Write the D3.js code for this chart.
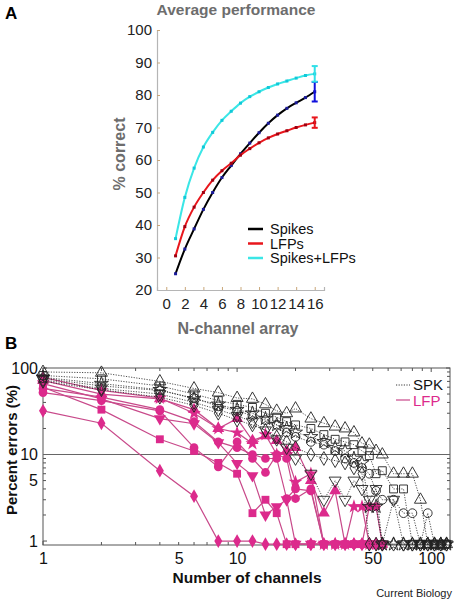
<!DOCTYPE html>
<html><head><meta charset="utf-8">
<script src="https://cdn.jsdelivr.net/npm/d3@7"></script>
<style>
html,body{margin:0;padding:0;background:#fff;}
svg{display:block;font-family:"Liberation Sans",Arial,Helvetica,sans-serif;}
</style></head>
<body><svg id="c" width="455" height="600"></svg>
<script>
// ---------- Panel A data ----------
const nChannelsA = [1,2,3,4,5,6,7,8,9,10,11,12,13,14,15,16];
const spikes      = [25,32.6,38.8,44.8,50,54.6,58.3,61.9,65.2,68.4,71.3,73.8,75.9,77.6,79.2,81];
const lfps        = [30.5,39.5,45.5,50,53.8,56.7,59,61.5,63.5,65.3,66.8,68,69,70,70.8,71.5];
const spikesLfps  = [35.8,48.5,57.5,64,68.5,72.2,75,77.5,79.5,81,82.3,83.4,84.3,85.2,86,86.5];
const errEnd      = {spikes:3, lfps:1.6, spikesLfps:2.4}; // error at 16 channels
const yTicksA = [20,30,40,50,60,70,80,90,100];
const xTicksA = [0,2,4,6,8,10,12,14,16];

// ---------- Panel B data ----------
const channels = [1,2,4,6,8,10,12,14,16,18,20,24,28,32,36,40,44,48,52,56,64,72,80,88,96,104,112,120];
// LFP (filled markers, solid magenta lines); 0.92 = zero errors plotted on floor
const lfpDiamond = [32,23,6.5,3.3,1.0,1.0,1.0,0.92,0.92,0.92,0.92,0.92,0.92,0.92,0.92,0.92,0.92,0.92,0.92,0.92];
const lfpSquare  = [60,33,15,11,8,6,2.1,3,2.1,0.92,0.92,0.92,0.92,0.92,0.92,0.92,0.92,0.92,0.92,0.92];
const lfpCircle  = [52,42,32,12,7.2,14,9,6.2,10,9,3.1,4,0.92,0.92,0.92,0.92,0.92,0.92,0.92];
const lfpTriDown = [66,44,26,22.7,13.7,7.9,5.7,2,2.5,3,0.92,0.92,0.92,0.92,0.92,0.92,0.92,0.92,0.92,0.92];
const lfpTriUp   = [72,50,44,33,20,26,14.5,16.5,14.5,11,12,5,2.1,3.8,0.92,0.92,0.92,0.92,0.92,0.92];
const lfpStar    = [78,55,45,30,20,17.9,13.4,17,10,10,4.8,6,0.92,0.92,0.92,2.5,2.5,0.92,0.92,0.92];
const lfpCircle2 = [58,46,33,24,14,12,10,9,9,3.1,4,3.8,0.92,0.92,0.92,0.92,0.92,2.5,2.5,0.92];
// SPK (hollow markers, dotted black lines)
const spkTriUp   = [90,88,70,58,52,45,44,38,32,30,34,26,23,21,20,18,13.4,13,11,10,6,6,6,3,0.92,0.92,0.92,0.92];
const spkSquare  = [82,75,62,50,42,38,35,30,27,24,22,20,17,15,14,13,11,9.7,6,6.5,4,4,0.92,0.92,0.92,0.92,0.92,0.92];
const spkCircle  = [76,62,55,45,36,32,28,25,22,18,16,14,13,11,9,8,7,6,3.8,3,3,2.1,2.1,0.92,2.1,0.92,0.92,0.92];
const spkDiamond = [70,56,46,37,30,25,22,19,16,14,12,10,9,8.5,8,7,6,0.92,0.92,0.92,0.92,0.92,0.92,0.92,0.92,0.92,0.92,0.92];
const spkTriDown = [73,58,50,40,33,28,24,19,15,12,9,6,3,5,3,5,4,3,4,0.92,3,0.92,0.92,0.92,0.92,0.92,0.92,0.92];
const spkStar    = [78,66,56,44,38,33,30,26,22,20,18,16,14,12,11,9,8,2.5,2.5,0.92,0.92,0.92,0.92,0.92,0.92,0.92,0.92,0.92];
const yTicksB = [1,5,10,100];
const xTicksB = [1,5,10,50,100];

const svg = d3.select("#c");
const grayText = "#6d6d6d";

// ================= PANEL A =================
const xA = d3.scaleLinear().domain([-1,17]).range([157,324]);
const yA = d3.scaleLinear().domain([20,100]).range([290,30]);

svg.append("text").attr("x",5).attr("y",19).attr("font-size",17).attr("font-weight","bold").text("A");
svg.append("text").attr("x",236).attr("y",15).attr("text-anchor","middle").attr("font-size",15.5)
  .attr("font-weight","bold").attr("fill",grayText).text("Average performance");

const gyA = svg.append("g").attr("transform","translate(157,0)")
  .call(d3.axisLeft(yA).tickValues(yTicksA).tickSize(-3).tickPadding(5));
const gxA = svg.append("g").attr("transform","translate(0,290)")
  .call(d3.axisBottom(xA).tickValues(xTicksA).tickSize(-3).tickPadding(8));
[gyA,gxA].forEach(g=>{
  g.select(".domain").attr("stroke","#b5b5b5").attr("stroke-width",1.2);
  g.selectAll(".tick line").attr("stroke","#c9a77a");
  g.selectAll(".tick text").attr("font-size",15).attr("fill","#222");
});
svg.append("text").attr("transform","translate(125,154) rotate(-90)").attr("text-anchor","middle")
  .attr("font-size",16).attr("font-weight","bold").attr("fill",grayText).text("% correct");
svg.append("text").attr("x",238).attr("y",334).attr("text-anchor","middle")
  .attr("font-size",16).attr("font-weight","bold").attr("fill",grayText).text("N-channel array");

const seriesA = [
  {vals:spikes, col:"#000", dot:"#1a1a99", err:errEnd.spikes, ecol:"#1010dd"},
  {vals:lfps, col:"#e8161c", dot:"#a00010", err:errEnd.lfps, ecol:"#e8161c"},
  {vals:spikesLfps, col:"#3be6e6", dot:"#10c8d8", err:errEnd.spikesLfps, ecol:"#30e0e8"}
];
const lineA = d3.line().x((d,i)=>xA(nChannelsA[i])).y(d=>yA(d)).curve(d3.curveMonotoneX);
seriesA.forEach(s=>{
  svg.append("path").attr("d",lineA(s.vals)).attr("fill","none").attr("stroke",s.col).attr("stroke-width",2);
  svg.append("g").selectAll("rect").data(s.vals).join("rect")
    .attr("x",(d,i)=>xA(nChannelsA[i])-1.5).attr("y",d=>yA(d)-1.5).attr("width",3).attr("height",3).attr("fill",s.dot);
  const last = s.vals[s.vals.length-1], xl = xA(16);
  const g = svg.append("g").attr("stroke",s.ecol).attr("stroke-width",2);
  g.append("line").attr("x1",xl).attr("x2",xl).attr("y1",yA(last-s.err)).attr("y2",yA(last+s.err));
  g.append("line").attr("x1",xl-3).attr("x2",xl+3).attr("y1",yA(last-s.err)).attr("y2",yA(last-s.err));
  g.append("line").attr("x1",xl-3).attr("x2",xl+3).attr("y1",yA(last+s.err)).attr("y2",yA(last+s.err));
});
const legA = [["Spikes","#000"],["LFPs","#e8161c"],["Spikes+LFPs","#3be6e6"]];
legA.forEach((l,i)=>{
  const yy = 229 + i*14.5;
  svg.append("line").attr("x1",248).attr("x2",263).attr("y1",yy).attr("y2",yy).attr("stroke",l[1]).attr("stroke-width",2.5);
  svg.append("text").attr("x",270).attr("y",yy+5).attr("font-size",14.5).attr("fill","#111").text(l[0]);
});

// ================= PANEL B =================
const L=43, R=450, T=368, B=545;
const xB = d3.scaleLog().domain([1,125]).range([L,R]);
const yB = d3.scaleLog().domain([0.9,100]).range([B,T]);

svg.append("text").attr("x",5).attr("y",349).attr("font-size",17).attr("font-weight","bold").text("B");

// frame
svg.append("rect").attr("x",L).attr("y",T).attr("width",R-L).attr("height",B-T)
  .attr("fill","none").attr("stroke","#555").attr("stroke-width",1);
// minor/major ticks
const xMinor = [];
[1,10,100].forEach(d=>{for(let k=1;k<10;k++){const v=d*k; if(v>=1 && v<=125) xMinor.push(v);}});
const yMinor = [];
[1,10].forEach(d=>{for(let k=1;k<10;k++){yMinor.push(d*k);}}); yMinor.push(100);
const tk = svg.append("g").attr("stroke","#555").attr("stroke-width",1);
xMinor.forEach(v=>{
  const big = [1,10,100].includes(v);
  tk.append("line").attr("x1",xB(v)).attr("x2",xB(v)).attr("y1",B).attr("y2",B-(big?4:3));
  tk.append("line").attr("x1",xB(v)).attr("x2",xB(v)).attr("y1",T).attr("y2",T+(big?4:3));
});
yMinor.forEach(v=>{
  const big = [1,10,100].includes(v);
  tk.append("line").attr("x1",L).attr("x2",L+(big?4:3)).attr("y1",yB(v)).attr("y2",yB(v));
  tk.append("line").attr("x1",R).attr("x2",R-(big?4:3)).attr("y1",yB(v)).attr("y2",yB(v));
});
// 10% reference line
svg.append("line").attr("x1",L).attr("x2",R).attr("y1",yB(10)).attr("y2",yB(10)).attr("stroke","#666").attr("stroke-width",1.2);

// tick labels through axes (domain hidden)
const gxB = svg.append("g").attr("transform",`translate(0,${B})`)
  .call(d3.axisBottom(xB).tickValues(xTicksB).tickFormat(d3.format("d")).tickSize(0).tickPadding(8));
const gyB = svg.append("g").attr("transform",`translate(${L},0)`)
  .call(d3.axisLeft(yB).tickValues(yTicksB).tickFormat(d3.format("d")).tickSize(0).tickPadding(5));
[gxB,gyB].forEach(g=>{
  g.select(".domain").remove();
  g.selectAll(".tick text").attr("font-size",16).attr("fill","#111");
});
svg.append("text").attr("transform","translate(17,450) rotate(-90)").attr("text-anchor","middle")
  .attr("font-size",15).attr("font-weight","bold").attr("fill","#111").text("Percent errors (%)");
svg.append("text").attr("x",247).attr("y",583).attr("text-anchor","middle")
  .attr("font-size",15.5).attr("font-weight","bold").attr("fill","#111").text("Number of channels");
svg.append("text").attr("x",452).attr("y",597).attr("text-anchor","end")
  .attr("font-size",11).attr("fill","#222").text("Current Biology");

const MAG = "#dc2a8c", MAGL = "#c8498a";
const sym = {
  circle: d3.symbol().type(d3.symbolCircle).size(60),
  square: d3.symbol().type(d3.symbolSquare).size(62),
  diamond: d3.symbol().type(d3.symbolDiamond).size(55),
  triUp: d3.symbol().type(d3.symbolTriangle).size(62),
  triDown: d3.symbol().type(d3.symbolTriangle).size(62),
  star: d3.symbol().type(d3.symbolStar).size(60)
};
const lfpSeries = [
  {v:lfpDiamond,s:"diamond"},{v:lfpSquare,s:"square"},{v:lfpCircle,s:"circle"},
  {v:lfpTriDown,s:"triDown"},{v:lfpTriUp,s:"triUp"},{v:lfpStar,s:"star"},{v:lfpCircle2,s:"circle"}
];
const spkSeries = [
  {v:spkTriUp,s:"triUp"},{v:spkSquare,s:"square"},{v:spkCircle,s:"circle"},
  {v:spkDiamond,s:"diamond"},{v:spkTriDown,s:"triDown"},{v:spkStar,s:"star"}
];
const lineB = d3.line().x(d=>xB(d[0])).y(d=>yB(d[1]));
const pts = a => a.map((v,i)=>[channels[i],v]);

function drawMarkers(g, data, shape, fill, stroke){
  g.selectAll(null).data(data).join("path")
    .attr("d",sym[shape]())
    .attr("transform",d=>`translate(${xB(d[0])},${yB(d[1])})${shape==="triDown"?" rotate(180)":""}`)
    .attr("fill",fill).attr("stroke",stroke).attr("stroke-width",0.9);
}
const gL = svg.append("g");
lfpSeries.forEach(s=>{
  gL.append("path").attr("d",lineB(pts(s.v))).attr("fill","none").attr("stroke",MAGL).attr("stroke-width",1.2);
});
lfpSeries.forEach(s=>{ drawMarkers(gL.append("g"), pts(s.v), s.s, MAG, "none"); });
const gS = svg.append("g");
spkSeries.forEach(s=>{
  gS.append("path").attr("d",lineB(pts(s.v))).attr("fill","none").attr("stroke","#222")
    .attr("stroke-width",0.8).attr("stroke-dasharray","1.2,1.4");
});
spkSeries.forEach(s=>{ drawMarkers(gS.append("g"), pts(s.v), s.s, "none", "#222"); });

// legend B
svg.append("line").attr("x1",396).attr("x2",410).attr("y1",385).attr("y2",385).attr("stroke","#222").attr("stroke-width",0.9).attr("stroke-dasharray","1.2,1.4");
svg.append("text").attr("x",413).attr("y",390).attr("font-size",15).attr("fill","#111").text("SPK");
svg.append("line").attr("x1",396).attr("x2",410).attr("y1",400).attr("y2",400).attr("stroke",MAGL).attr("stroke-width",1.2);
svg.append("text").attr("x",413).attr("y",405.5).attr("font-size",15).attr("fill",MAG).text("LFP");
</script></body></html>
